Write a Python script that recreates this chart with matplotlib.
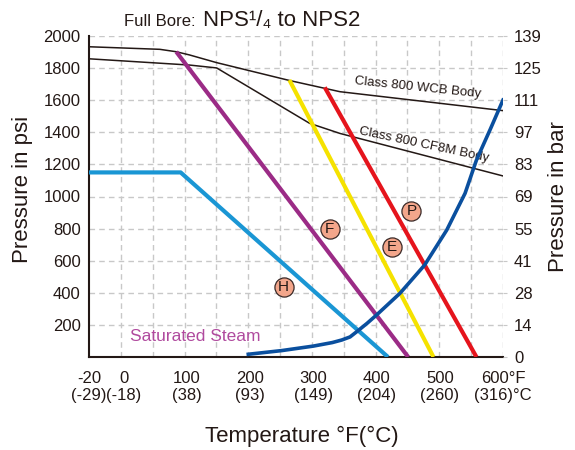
import numpy as np
import matplotlib.pyplot as plt

plt.rcParams['font.family'] = ['Liberation Sans', 'DejaVu Sans']

# axis ticks
psi_ticks = [0, 200, 400, 600, 800, 1000, 1200, 1400, 1600, 1800, 2000]
psi_labels = ['', '200', '400', '600', '800', '1000', '1200', '1400', '1600', '1800', '2000']
bar_labels = ['0', '14', '28', '41', '55', '69', '83', '97', '111', '125', '139']

x_left = -55          # left edge of chart, labelled -20 F
temp_f = [x_left, 0, 100, 200, 300, 400, 500, 600]
temp_labels = ['-20\n(-29)', '0\n(-18)', '100\n(38)', '200\n(93)', '300\n(149)',
               '400\n(204)', '500\n(260)', '600°F\n(316)°C']

# body ratings
wcb_t = [x_left, 57, 83, 104, 147, 263, 342, 600]
wcb_p = [1933, 1917, 1902, 1882, 1834, 1722, 1653, 1535]
cf8m_t = [x_left, 104, 147, 294, 342, 600]
cf8m_p = [1858, 1819, 1801, 1456, 1393, 1128]

# seat ratings
h_t, h_p = [x_left, 90, 418], [1150, 1150, 0]
f_t, f_p = [83, 450], [1902, 0]
e_t, e_p = [262, 490], [1726, 0]
p_t, p_p = [318, 558], [1680, 0]

# saturated steam
steam_t = [197, 250, 300, 330, 345, 358, 370, 385, 400, 437, 476, 511, 540, 558, 580, 600]
steam_p = [17, 40, 68, 90, 106, 125, 162, 210, 262, 397, 573, 791, 1020, 1227, 1420, 1601]

# circled letters
mark_txt = ['H', 'F', 'E', 'P']
mark_t = [253, 326, 424, 455]
mark_p = [438, 796, 683, 910]

fig = plt.figure(figsize=(5.75, 4.5), dpi=100)
ax = fig.add_axes([89/575, 1-357/450, 414/575, 321/450])
ax.set_xlim(x_left, 600)
ax.set_ylim(0, 2000)

# dashed grid
grid_kw = dict(color='#c8c8c8', lw=1, ls=(0, (4, 3)), zorder=0)
for v in psi_ticks[1:]:
    ax.axhline(v, **grid_kw)
for k in range(1, 14):
    ax.axvline(x_left + (600 - x_left) * k / 13, **grid_kw)

ax.plot(wcb_t, wcb_p, color='#231815', lw=1.1, zorder=2)
ax.plot(cf8m_t, cf8m_p, color='#231815', lw=1.1, zorder=2)

ax.plot(h_t, h_p, color='#1a96d4', lw=3, solid_capstyle='butt', zorder=3)
ax.plot(f_t, f_p, color='#9b2b86', lw=3, solid_capstyle='butt', zorder=3)
ax.plot(e_t, e_p, color='#f5e200', lw=3, solid_capstyle='butt', zorder=3)
ax.plot(p_t, p_p, color='#e5141c', lw=3, solid_capstyle='butt', zorder=3)
ax.plot(steam_t, steam_p, color='#0a4f9e', lw=2.6, zorder=4)

ax.scatter(mark_t, mark_p, s=190, color='#f3a68b', edgecolor='#3a2a28', lw=0.9, zorder=5)
for t, x, y in zip(mark_txt, mark_t, mark_p):
    ax.text(x, y, t, ha='center', va='center', fontsize=11, color='#231815', zorder=6)

ax.text(10, 125, 'Saturated Steam', color='#b04a9e', fontsize=12.5, va='center', ha='left')
ax.text(465, 1676, 'Class 800 WCB Body', fontsize=9.5, rotation=-6,
        ha='center', va='center', rotation_mode='anchor', color='#231815')
ax.text(475, 1321, 'Class 800 CF8M Body', fontsize=9.5, rotation=-12,
        ha='center', va='center', rotation_mode='anchor', color='#231815')

for s in ['top', 'right']:
    ax.spines[s].set_visible(False)
for s in ['left', 'bottom']:
    ax.spines[s].set_linewidth(1.5)
    ax.spines[s].set_color('#231815')

ax.set_yticks(psi_ticks)
ax.set_yticklabels(psi_labels)
ax.set_xticks(temp_f)
ax.set_xticklabels(temp_labels)
ax.tick_params(axis='y', length=0, pad=6, labelsize=12, labelcolor='#231815')
ax.tick_params(axis='x', length=0, pad=10, labelsize=12, labelcolor='#231815')

ax2 = ax.twinx()
ax2.set_ylim(0, 2000)
ax2.set_yticks(psi_ticks)
ax2.set_yticklabels(bar_labels)
ax2.tick_params(axis='y', length=3, color='#c8c8c8', pad=5, labelsize=12, labelcolor='#231815')
for s in ax2.spines.values():
    s.set_visible(False)

ax.set_ylabel('Pressure in psi', fontsize=16, color='#231815')
ax.yaxis.set_label_coords(-0.135, 0.523)
ax2.set_ylabel('Pressure in bar', fontsize=16, color='#231815')
ax2.yaxis.set_label_coords(1.109, 0.50)
ax.set_xlabel('Temperature °F(°C)', fontsize=16, color='#231815')
ax.xaxis.set_label_coords(0.515, -0.215)

fig.text(124/575, 1-26/450, 'Full Bore:', fontsize=12, va='baseline', color='#231815')
fig.text(203/575, 1-26/450, 'NPS¹/₄ to NPS2', fontsize=16, va='baseline', color='#231815')

fig.savefig('out.png', dpi=100)
